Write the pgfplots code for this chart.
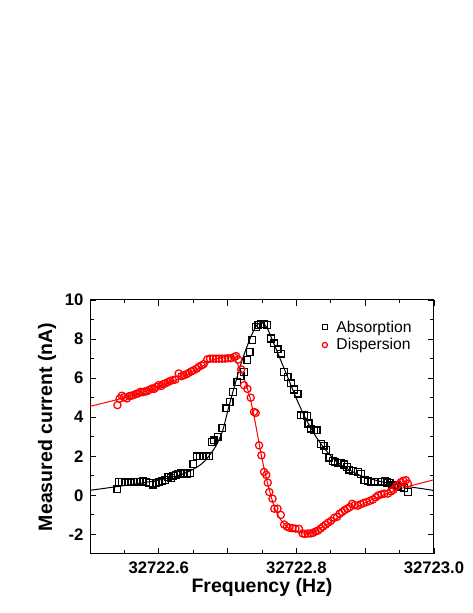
\documentclass[border=0pt]{standalone}
\usepackage{fontspec}
\setmainfont{Liberation Sans}
\usepackage{pgfplots}
\pgfplotsset{compat=1.18}

% x values are frequency minus 32722 Hz (pgf's float precision cannot hold 32722.xxxx)
\begin{document}
\begin{tikzpicture}[x=1pt,y=1pt]
\path[use as bounding box] (0,0) rectangle (473,613);
\begin{axis}[
    at={(90pt,59pt)}, anchor=south west,
    width=344pt, height=254pt, scale only axis,
    xmin=0.5, xmax=1.0, ymin=-3, ymax=10,
    xtick={0.5,0.6,0.7,0.8,0.9,1.0},
    xticklabels={{},32722.6,{},32722.8,{},32723.0},
    minor x tick num=1,
    ytick={-2,0,2,4,6,8,10},
    minor y tick num=1,
    major tick length=6pt, minor tick length=3.5pt,
    axis line style={line width=1pt},
    every tick/.style={line width=0.9pt, black},
    /pgf/number format/assume math mode=true,
    ticklabel style={font=\fontsize{16.7}{19}\selectfont\bfseries},
    xticklabel style={yshift=-4pt},
    yticklabel style={xshift=-3pt},
    xlabel={Frequency (Hz)},
    ylabel={Measured current (nA)},
    label style={font=\fontsize{19.5}{22}\selectfont\bfseries},
    xlabel style={at={(axis description cs:0.5,-0.13)}, anchor=center},
    ylabel style={at={(axis description cs:-0.125,0.5)}, anchor=center},
    legend style={draw=none, fill=none, at={(axis description cs:0.66,0.935)}, anchor=north west,
        font=\fontsize{15.7}{18}\selectfont, row sep=1pt},
    legend cell align=left,
    legend image code/.code={\path (0pt,0pt) (13pt,0pt);
        \draw[#1, mark size=2.6pt] plot coordinates {(4pt,0pt)};},
]
% fitted curves
\addplot[black, line width=1pt, smooth, forget plot] table {
x y
0.5000 0.26
0.5394 0.45
0.5730 0.62
0.6022 0.80
0.6314 1.05
0.6533 1.40
0.6679 1.80
0.6825 2.50
0.6927 3.30
0.7015 4.50
0.7117 5.80
0.7219 7.00
0.7336 8.10
0.7423 8.70
0.7496 8.85
0.7569 8.60
0.7657 7.90
0.7774 6.90
0.7891 5.90
0.8007 4.90
0.8139 3.90
0.8285 3.00
0.8431 2.30
0.8577 1.75
0.8723 1.40
0.8942 1.00
0.9234 0.70
0.9526 0.50
0.9818 0.35
1.0000 0.25
};
\addplot[red, line width=1pt, smooth, forget plot] table {
x y
0.5000 4.56
0.5394 4.90
0.5730 5.25
0.6022 5.60
0.6314 6.00
0.6533 6.40
0.6752 6.85
0.6898 7.05
0.7015 7.10
0.7102 6.95
0.7190 6.40
0.7263 5.75
0.7336 4.85
0.7409 3.60
0.7482 2.20
0.7555 1.00
0.7628 0.00
0.7701 -0.80
0.7774 -1.25
0.7876 -1.65
0.7993 -1.85
0.8110 -1.92
0.8241 -1.85
0.8387 -1.60
0.8577 -1.20
0.8796 -0.75
0.9015 -0.35
0.9234 -0.02
0.9453 0.28
0.9672 0.50
1.0000 0.80
};
% measured data
\addplot[only marks, mark=square, mark size=3.4pt, black, line width=1.25pt] table {
x y
0.5399 0.31
0.5416 0.68
0.5460 0.68
0.5504 0.67
0.5548 0.68
0.5591 0.67
0.5635 0.68
0.5679 0.70
0.5723 0.70
0.5767 0.74
0.5810 0.68
0.5861 0.62
0.5915 0.55
0.5964 0.62
0.6000 0.68
0.6051 0.72
0.6095 0.80
0.6139 0.94
0.6175 0.90
0.6212 1.00
0.6248 1.05
0.6278 1.11
0.6321 1.12
0.6365 1.12
0.6409 1.12
0.6460 1.15
0.6504 1.62
0.6555 2.00
0.6599 2.00
0.6643 2.00
0.6686 2.00
0.6730 2.02
0.6767 2.73
0.6796 2.82
0.6854 3.00
0.6923 3.45
0.6981 4.45
0.7029 4.79
0.7078 5.30
0.7142 5.81
0.7190 6.10
0.7238 6.32
0.7288 6.92
0.7321 7.35
0.7361 7.95
0.7409 8.63
0.7446 8.72
0.7489 8.75
0.7533 8.75
0.7577 8.72
0.7628 8.03
0.7676 7.78
0.7726 7.47
0.7774 7.26
0.7822 6.32
0.7872 6.07
0.7920 5.73
0.7968 5.42
0.8018 5.21
0.8066 4.10
0.8110 4.10
0.8154 4.05
0.8176 3.68
0.8212 3.42
0.8256 3.35
0.8292 3.33
0.8358 2.62
0.8395 2.55
0.8431 2.31
0.8479 1.93
0.8529 1.76
0.8562 1.72
0.8602 1.68
0.8650 1.65
0.8698 1.58
0.8738 1.45
0.8771 1.32
0.8825 1.25
0.8894 1.20
0.8942 1.10
0.8990 0.77
0.9044 0.72
0.9088 0.68
0.9132 0.70
0.9186 0.68
0.9234 0.70
0.9282 0.72
0.9322 0.66
0.9355 0.63
0.9395 0.55
0.9428 0.51
0.9482 0.46
0.9526 0.43
0.9570 0.38
0.9624 0.17
};
\addlegendentry{Absorption}
\addplot[only marks, mark=o, mark size=3.6pt, red, line width=1.25pt] table {
x y
0.5399 4.62
0.5431 4.95
0.5463 5.10
0.5496 5.02
0.5536 4.96
0.5569 5.08
0.5599 5.10
0.5632 5.13
0.5672 5.20
0.5701 5.22
0.5730 5.30
0.5767 5.28
0.5796 5.32
0.5828 5.33
0.5861 5.40
0.5901 5.47
0.5934 5.45
0.5964 5.55
0.5997 5.64
0.6037 5.60
0.6066 5.70
0.6095 5.73
0.6132 5.80
0.6168 5.86
0.6205 5.90
0.6241 5.93
0.6289 6.24
0.6329 6.10
0.6362 6.15
0.6402 6.20
0.6435 6.27
0.6475 6.35
0.6508 6.41
0.6548 6.48
0.6581 6.58
0.6621 6.65
0.6654 6.72
0.6704 6.96
0.6745 7.00
0.6789 7.00
0.6832 7.00
0.6876 7.00
0.6920 7.00
0.6964 7.00
0.7008 7.02
0.7051 7.02
0.7095 7.08
0.7124 7.13
0.7154 6.95
0.7197 6.45
0.7238 5.64
0.7288 5.45
0.7336 5.00
0.7384 4.27
0.7409 4.22
0.7457 2.56
0.7492 2.05
0.7530 1.20
0.7562 1.05
0.7584 0.65
0.7606 0.17
0.7653 -0.17
0.7679 -0.68
0.7726 -0.68
0.7774 -1.00
0.7822 -1.49
0.7862 -1.60
0.7898 -1.66
0.7942 -1.68
0.7986 -1.70
0.8037 -1.71
0.8091 -1.95
0.8124 -1.97
0.8164 -1.95
0.8205 -1.95
0.8241 -1.92
0.8278 -1.85
0.8314 -1.80
0.8351 -1.70
0.8387 -1.60
0.8424 -1.50
0.8460 -1.40
0.8504 -1.30
0.8548 -1.15
0.8592 -1.10
0.8628 -0.94
0.8665 -0.85
0.8701 -0.75
0.8738 -0.68
0.8774 -0.60
0.8811 -0.43
0.8847 -0.50
0.8891 -0.53
0.8935 -0.45
0.8979 -0.39
0.9022 -0.34
0.9066 -0.28
0.9110 -0.22
0.9154 -0.10
0.9190 0.00
0.9234 0.05
0.9278 0.09
0.9329 0.09
0.9373 0.20
0.9409 0.28
0.9446 0.45
0.9482 0.55
0.9519 0.68
0.9555 0.75
0.9592 0.78
0.9621 0.60
};
\addlegendentry{Dispersion}
\end{axis}
\end{tikzpicture}
\end{document}
